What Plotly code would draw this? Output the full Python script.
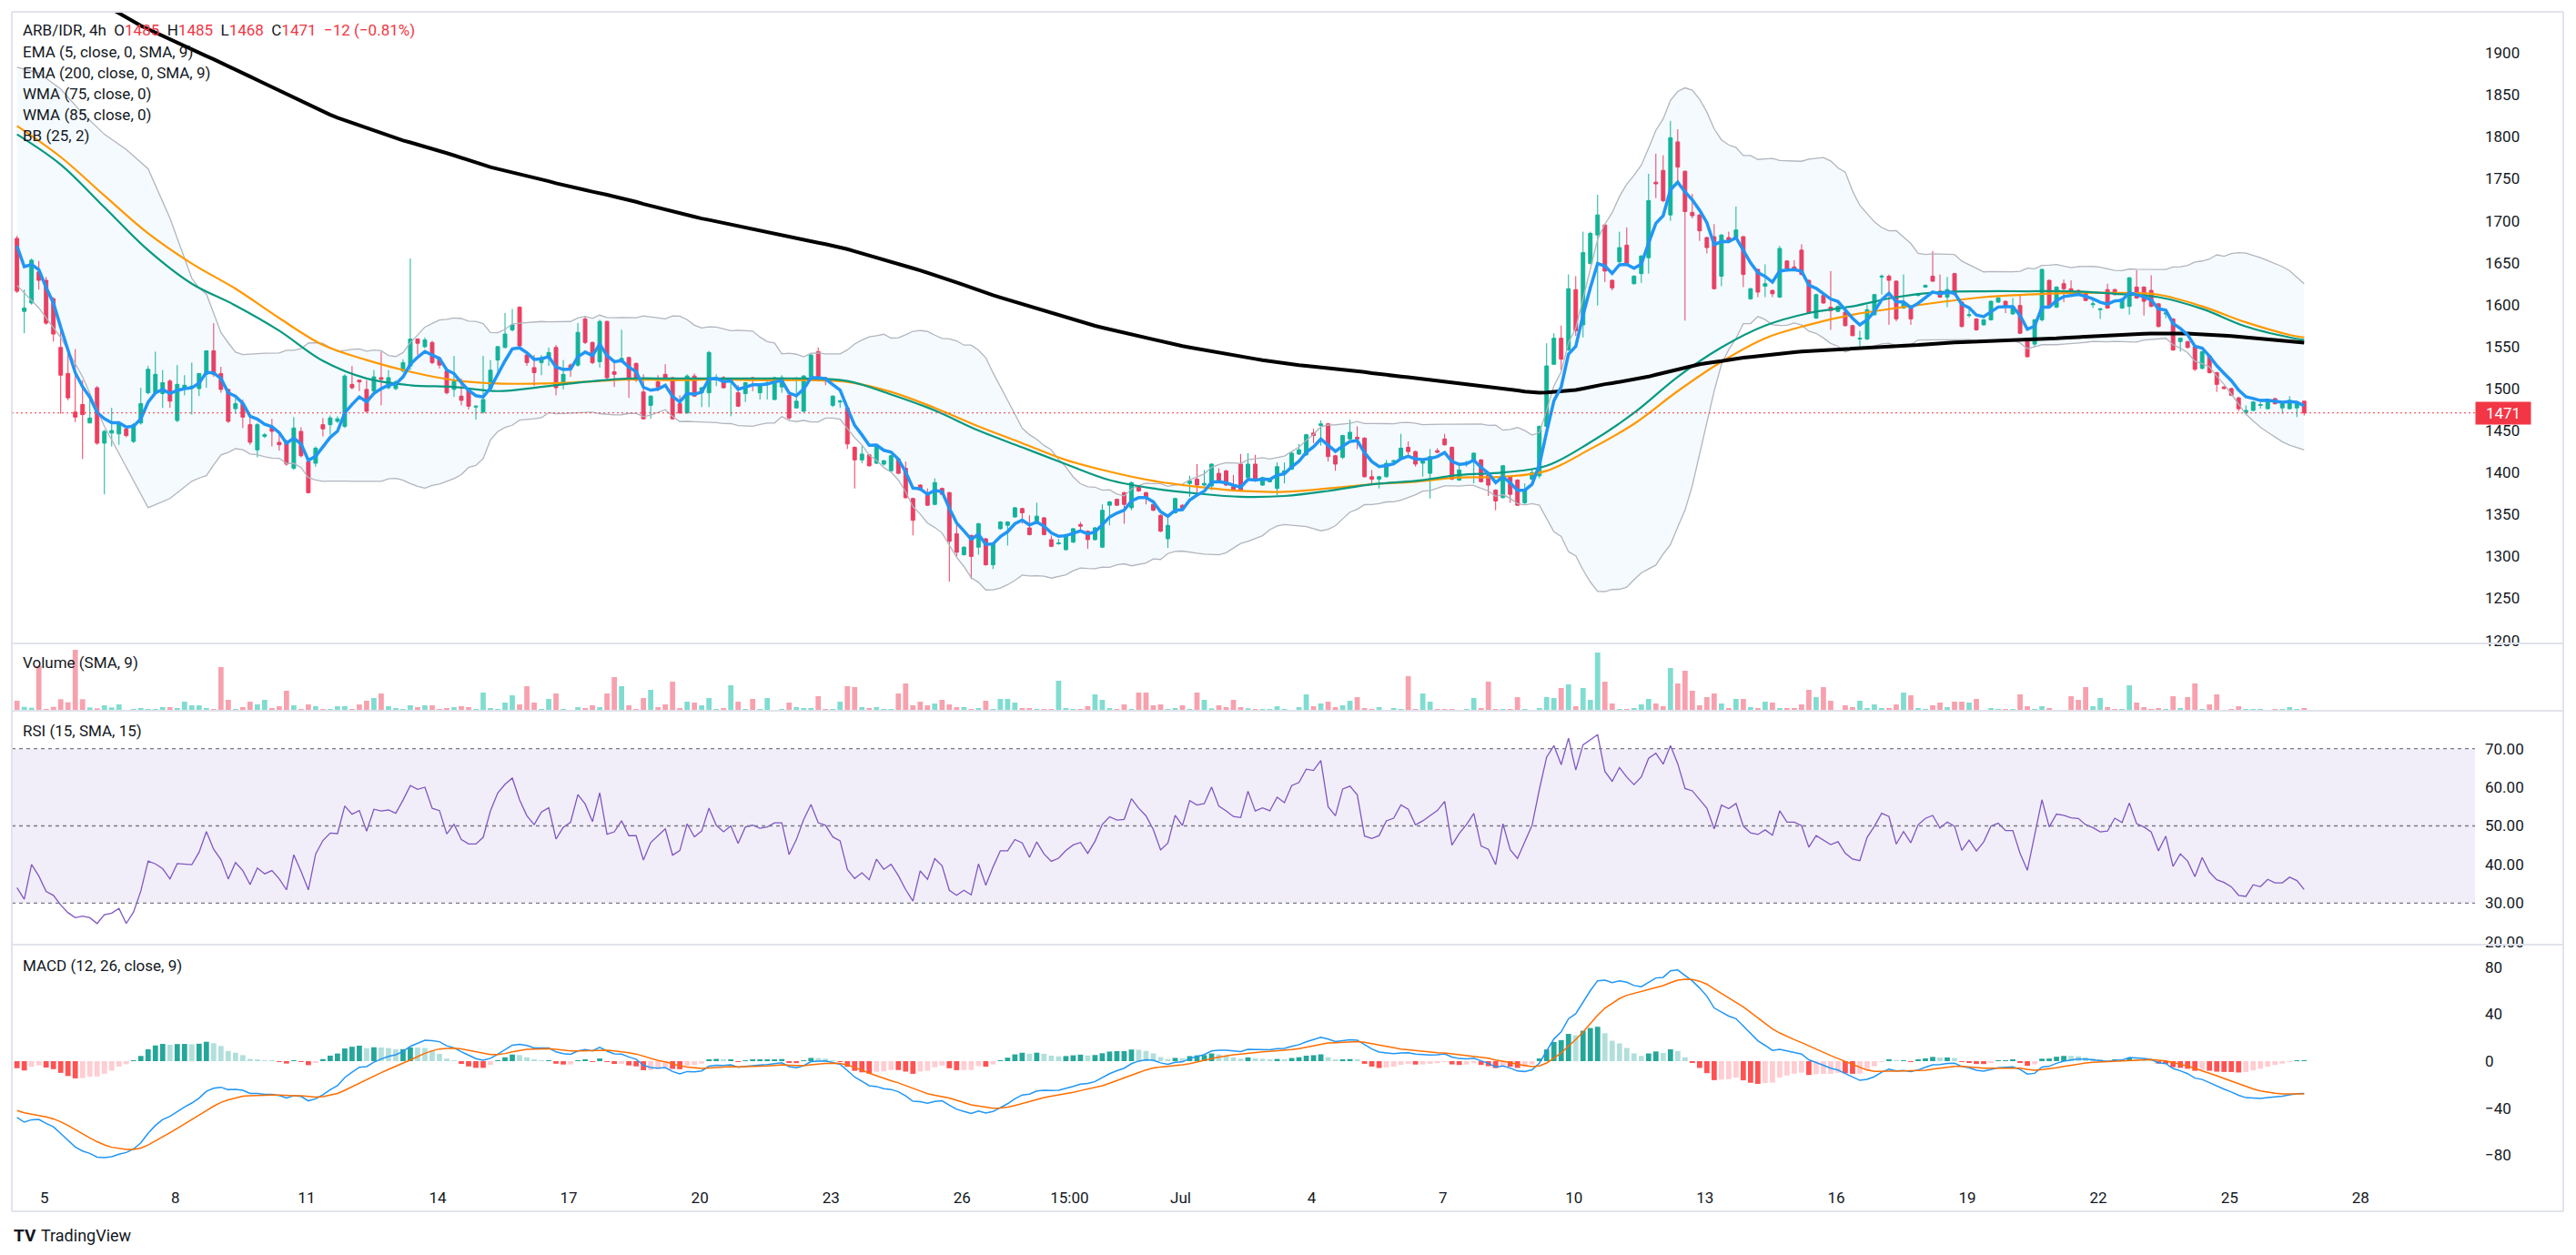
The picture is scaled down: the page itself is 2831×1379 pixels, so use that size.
import numpy as np
import pandas as pd
import plotly.graph_objects as go
from plotly.subplots import make_subplots

# ------------------------------------------------------------------ data (ARB/IDR, 4h)
opens = [1679,1592,1602,1639,1629,1607,1549,1518,1472,1481,
1459,1501,1435,1447,1446,1452,1437,1459,1495,1495,
1494,1509,1462,1500,1501,1500,1517,1545,1518,1499,
1476,1482,1457,1427,1443,1453,1436,1437,1405,1449,
1413,1411,1457,1457,1461,1455,1505,1510,1499,1497,
1513,1501,1500,1521,1527,1559,1550,1555,1536,1521,
1499,1491,1499,1478,1472,1500,1534,1549,1570,1597,
1540,1525,1531,1536,1549,1507,1528,1528,1583,1555,
1532,1580,1520,1533,1537,1530,1496,1480,1508,1517,
1513,1482,1471,1515,1495,1495,1511,1513,1509,1495,
1494,1513,1495,1505,1487,1502,1492,1477,1473,1514,
1544,1513,1480,1484,1477,1430,1415,1421,1411,1410,
1402,1416,1405,1369,1385,1373,1362,1381,1376,1327,
1302,1325,1311,1321,1290,1333,1337,1347,1357,1334,
1341,1346,1320,1315,1308,1317,1338,1330,1320,1311,
1361,1368,1376,1358,1383,1376,1362,1349,1321,1352,
1361,1387,1392,1385,1384,1399,1402,1383,1410,1394,
1410,1385,1389,1381,1400,1404,1422,1421,1447,1456,
1458,1420,1418,1440,1442,1441,1395,1392,1395,1413,
1417,1430,1425,1411,1399,1426,1440,1430,1391,1411,
1415,1415,1397,1379,1370,1395,1391,1364,1392,1396,
1455,1529,1560,1546,1618,1576,1649,1683,1695,1629,
1651,1671,1625,1637,1656,1746,1760,1707,1794,1759,
1710,1707,1680,1681,1634,1680,1680,1681,1607,1642,
1622,1617,1609,1652,1645,1665,1629,1584,1611,1597,
1592,1591,1575,1559,1559,1588,1633,1634,1628,1596,
1596,1611,1621,1634,1616,1609,1637,1603,1587,1583,
1576,1582,1603,1604,1589,1599,1559,1553,1582,1629,
1597,1625,1619,1617,1615,1600,1594,1618,1618,1596,
1598,1621,1621,1617,1601,1589,1583,1556,1556,1550,
1524,1539,1519,1502,1500,1489,1471,1474,1480,1476,
1488,1477,1476,1477,1485]

highs = [1682,1618,1655,1652,1633,1609,1578,1547,1547,1510,
1494,1503,1451,1477,1461,1455,1459,1501,1527,1544,
1522,1511,1528,1516,1531,1510,1545,1578,1526,1500,
1488,1487,1469,1459,1447,1464,1445,1439,1466,1454,
1415,1431,1465,1468,1467,1517,1527,1510,1510,1522,
1544,1522,1510,1535,1655,1560,1561,1557,1538,1523,
1539,1512,1501,1480,1539,1534,1551,1590,1595,1598,
1542,1540,1540,1549,1552,1534,1530,1578,1586,1556,
1582,1581,1534,1570,1538,1531,1517,1492,1516,1529,
1514,1492,1517,1518,1502,1545,1517,1515,1512,1504,
1508,1514,1506,1513,1514,1516,1493,1514,1516,1541,
1549,1514,1492,1487,1478,1431,1432,1422,1434,1415,
1421,1417,1413,1370,1386,1381,1393,1382,1377,1341,
1312,1326,1340,1322,1317,1342,1342,1359,1358,1349,
1364,1347,1325,1321,1327,1334,1341,1331,1335,1362,
1366,1369,1377,1389,1385,1377,1363,1350,1346,1370,
1362,1396,1410,1403,1411,1405,1403,1397,1422,1423,
1421,1395,1392,1412,1412,1425,1434,1446,1452,1462,
1459,1421,1445,1463,1455,1442,1403,1396,1415,1415,
1446,1437,1426,1415,1428,1429,1446,1431,1411,1414,
1424,1416,1398,1380,1409,1396,1392,1387,1404,1456,
1554,1566,1575,1636,1634,1687,1687,1731,1696,1630,
1687,1692,1635,1659,1756,1780,1778,1819,1809,1760,
1732,1708,1681,1696,1684,1687,1717,1682,1620,1643,
1648,1618,1670,1653,1653,1672,1630,1613,1612,1640,
1599,1592,1576,1569,1600,1613,1636,1636,1629,1636,
1597,1614,1624,1664,1636,1633,1638,1604,1595,1584,
1583,1605,1609,1605,1608,1612,1560,1583,1643,1630,
1622,1630,1629,1618,1616,1606,1596,1625,1619,1608,
1633,1641,1622,1635,1602,1591,1584,1561,1557,1551,
1545,1540,1520,1503,1501,1490,1480,1485,1488,1488,
1489,1483,1491,1483,1485]

lows = [1614,1566,1600,1618,1576,1556,1470,1486,1460,1416,
1459,1433,1374,1431,1433,1442,1435,1457,1493,1492,
1477,1477,1460,1492,1469,1491,1501,1514,1495,1459,
1470,1453,1433,1418,1441,1431,1426,1408,1403,1418,
1375,1407,1443,1445,1459,1453,1499,1497,1471,1495,
1480,1499,1498,1519,1522,1540,1548,1529,1524,1493,
1490,1480,1475,1463,1470,1498,1520,1548,1568,1548,
1527,1503,1516,1527,1492,1499,1514,1526,1553,1529,
1525,1511,1502,1531,1489,1508,1463,1464,1497,1511,
1463,1470,1470,1490,1478,1478,1503,1500,1467,1478,
1484,1497,1487,1487,1486,1495,1463,1476,1472,1512,
1512,1504,1478,1477,1428,1381,1411,1407,1410,1408,
1400,1398,1369,1325,1378,1360,1361,1373,1270,1300,
1301,1273,1302,1289,1285,1332,1313,1346,1339,1325,
1340,1325,1311,1314,1307,1316,1331,1309,1319,1310,
1337,1360,1339,1355,1377,1362,1354,1329,1310,1351,
1356,1371,1372,1384,1379,1389,1384,1378,1377,1393,
1389,1384,1388,1373,1387,1403,1421,1420,1435,1432,
1413,1402,1416,1439,1428,1394,1385,1381,1394,1412,
1416,1421,1407,1395,1369,1423,1432,1391,1390,1407,
1387,1388,1372,1355,1369,1364,1360,1362,1391,1393,
1453,1528,1522,1545,1563,1561,1648,1599,1627,1617,
1650,1646,1624,1626,1637,1727,1722,1700,1746,1581,
1703,1676,1661,1618,1622,1674,1679,1621,1606,1609,
1609,1609,1608,1642,1642,1635,1589,1583,1601,1570,
1591,1574,1563,1550,1558,1587,1612,1576,1580,1595,
1576,1610,1620,1627,1608,1597,1611,1573,1585,1569,
1575,1581,1602,1590,1588,1565,1537,1550,1580,1596,
1596,1603,1614,1613,1604,1596,1583,1595,1611,1595,
1588,1607,1587,1597,1573,1584,1545,1544,1548,1521,
1523,1518,1496,1499,1491,1473,1470,1473,1476,1475,
1481,1470,1475,1466,1468]

closes = [1616,1596,1653,1629,1578,1565,1516,1489,1466,1469,
1465,1435,1449,1450,1459,1444,1457,1482,1523,1517,
1507,1485,1505,1504,1503,1518,1545,1517,1499,1461,
1482,1466,1436,1457,1445,1449,1433,1410,1453,1420,
1376,1429,1452,1465,1464,1515,1501,1508,1473,1514,
1511,1513,1508,1531,1559,1554,1558,1531,1528,1495,
1509,1486,1479,1479,1487,1522,1550,1565,1576,1551,
1531,1519,1537,1543,1501,1517,1524,1567,1555,1531,
1580,1513,1517,1536,1510,1510,1464,1491,1502,1513,
1464,1471,1515,1491,1501,1543,1513,1501,1511,1479,
1507,1510,1505,1507,1513,1513,1465,1485,1515,1540,
1513,1509,1491,1485,1434,1415,1422,1408,1433,1414,
1420,1399,1370,1343,1379,1361,1388,1374,1318,1305,
1311,1300,1339,1290,1316,1341,1341,1358,1352,1326,
1348,1326,1312,1316,1326,1333,1336,1320,1334,1355,
1365,1361,1362,1388,1378,1370,1355,1330,1337,1369,
1357,1390,1385,1387,1410,1390,1385,1379,1378,1410,
1390,1394,1391,1407,1402,1423,1427,1445,1444,1458,
1419,1410,1444,1448,1440,1395,1392,1395,1411,1414,
1429,1425,1410,1414,1419,1424,1433,1392,1403,1412,
1423,1389,1385,1366,1408,1374,1361,1379,1400,1455,
1527,1560,1535,1619,1569,1662,1685,1707,1640,1620,
1668,1649,1634,1658,1724,1744,1724,1799,1764,1711,
1706,1688,1668,1619,1683,1675,1689,1636,1619,1615,
1625,1613,1667,1643,1643,1636,1590,1612,1602,1593,
1598,1575,1563,1560,1594,1612,1634,1629,1583,1603,
1583,1612,1623,1628,1609,1618,1612,1574,1588,1570,
1582,1604,1608,1598,1598,1566,1538,1582,1642,1597,
1621,1619,1615,1614,1605,1601,1595,1596,1612,1607,
1632,1608,1604,1598,1574,1590,1546,1560,1549,1523,
1544,1519,1505,1500,1492,1476,1474,1484,1481,1487,
1482,1482,1486,1482,1471]

volumes = [33,13,10,148,6,13,38,28,201,38,
11,8,18,11,21,3,6,9,6,6,
12,12,9,30,18,18,9,6,144,36,
6,12,30,21,36,9,15,66,18,6,
21,15,6,6,15,15,6,21,33,42,
57,15,9,6,18,12,18,18,6,9,
12,15,12,6,60,9,6,27,51,21,
81,27,6,39,57,6,3,12,9,18,
12,57,111,81,18,6,42,69,12,21,
96,9,30,27,18,42,6,9,84,30,
6,39,6,42,3,6,27,12,9,9,
48,6,6,30,81,78,12,9,12,6,
6,57,90,18,30,18,24,36,21,12,
12,6,9,33,6,39,39,27,9,9,
6,6,6,99,9,6,6,15,54,36,
9,6,21,6,60,60,18,21,6,9,
18,6,60,36,8,18,12,36,12,8,
6,6,6,15,6,3,12,54,15,24,
30,12,18,33,45,9,6,12,3,9,
6,114,6,57,30,6,6,6,3,6,
42,9,96,6,6,6,45,6,3,9,
45,42,75,87,15,75,36,192,96,24,
6,6,9,21,39,24,15,141,90,132,
66,18,45,57,24,9,39,39,12,9,
30,27,9,9,9,21,69,45,78,33,
3,18,12,33,9,21,9,9,21,60,
51,9,6,18,27,12,30,30,27,39,
3,9,6,6,6,54,15,6,15,9,
3,3,48,36,78,15,42,12,6,6,
84,27,12,6,9,6,48,9,45,90,
6,21,54,3,6,15,6,6,6,3,
6,6,12,6,9]

# indicator values read off the chart where history is not visible
rsi_head = [34, 31, 40, 37, 33, 32, 29.5, 27.5, 26.2, 26.6, 26.2, 24.7, 27, 27.4, 28.6]
bb_head_idx = [0, 3, 6, 9, 12, 15, 18, 21]
bb_head_upper = [1883, 1876, 1857, 1828, 1803, 1785, 1762, 1703]
bb_head_lower = [1623, 1596, 1561, 1514, 1455, 1406, 1358, 1369]
wma_idx = list(range(0, 313, 6)) + [314]
wma75 = [1803,1767,1716,1665,1625,1599,1569,1533,1512,1504,
1502,1497,1502,1508,1512,1512,1512,1512,1512,1509,
1493,1474,1450,1430,1410,1391,1381,1375,1371,1372,
1378,1386,1390,1397,1400,1408,1436,1471,1514,1549,
1575,1590,1598,1609,1615,1616,1616,1616,1613,1609,
1595,1574,1561,1558]
wma85 = [1813,1776,1730,1685,1649,1619,1584,1552,1534,1520,
1510,1506,1506,1508,1511,1510,1511,1510,1510,1508,
1496,1477,1455,1435,1415,1401,1390,1383,1378,1377,
1381,1386,1389,1394,1395,1402,1428,1458,1497,1532,
1560,1576,1588,1596,1603,1609,1612,1614,1614,1612,
1598,1579,1564,1561]
ema5_start = 1670
ema200_start = 2012
ema12_start = 1690
ema26_start = 1738
signal_start = -42

x_ticks = ["2024-06-05 00:00", "2024-06-08 00:00", "2024-06-11 00:00", "2024-06-14 00:00",
           "2024-06-17 00:00", "2024-06-20 00:00", "2024-06-23 00:00", "2024-06-26 00:00",
           "2024-06-28 11:00", "2024-07-01 00:00", "2024-07-04 00:00", "2024-07-07 00:00",
           "2024-07-10 00:00", "2024-07-13 00:00", "2024-07-16 00:00", "2024-07-19 00:00",
           "2024-07-22 00:00", "2024-07-25 00:00", "2024-07-28 00:00"]
x_tick_text = ["5", "8", "11", "14", "17", "20", "23", "26", "15:00", "Jul", "4", "7",
               "10", "13", "16", "19", "22", "25", "28"]
price_ticks = list(range(1200, 1901, 50))

# ------------------------------------------------------------------ indicators
t = pd.date_range("2024-06-04 09:00", periods=len(closes), freq="4h")
c = np.array(closes, dtype=float)
n = len(c)


def ema_from(vals, length, start):
    a = 2.0 / (length + 1)
    out = np.empty(len(vals))
    e = start
    out[0] = e
    for i in range(1, len(vals)):
        e = e + a * (vals[i] - e)
        out[i] = e
    return out


ema5 = ema_from(c, 5, ema5_start)
ema200 = ema_from(c, 200, ema200_start)
macd = ema_from(c, 12, ema12_start) - ema_from(c, 26, ema26_start)
signal = ema_from(macd, 9, signal_start)
hist = macd - signal

s = pd.Series(c)
basis = s.rolling(25).mean()
dev = s.rolling(25).std(ddof=0)
bb_up = (basis + 2 * dev).to_numpy()
bb_lo = (basis - 2 * dev).to_numpy()
bb_x = list(t[bb_head_idx]) + list(t[24:])
bb_u = list(bb_head_upper) + list(bb_up[24:])
bb_l = list(bb_head_lower) + list(bb_lo[24:])

d = np.diff(c)
g = np.clip(d, 0, None)
lo = np.clip(-d, 0, None)
rsi = np.full(n, np.nan)
rsi[:15] = rsi_head
ag = g[:15].mean()
al = lo[:15].mean()
rsi[15] = 100 - 100 / (1 + ag / al)
for i in range(16, n):
    ag = (ag * 14 + g[i - 1]) / 15
    al = (al * 14 + lo[i - 1]) / 15
    rsi[i] = 100.0 if al == 0 else 100 - 100 / (1 + ag / al)

UP, DN = "#14b497", "#f03d5e"
vol_colors = ["#80dcd0" if cl >= op else "#f7a1ae" for op, cl in zip(opens, closes)]
hist_colors = []
for i, h in enumerate(hist):
    prev = hist[i - 1] if i > 0 else h
    if h >= 0:
        hist_colors.append("#26a69a" if h > prev else "#b2dfdb")
    else:
        hist_colors.append("#ffcdd2" if h > prev else "#ff5252")

# ------------------------------------------------------------------ figure
W, H = 2831, 1379
PL, PR, PT, PB = 13, 2720, 13, 1298


def fx(X):
    return (X - PL) / (PR - PL)


def fy(Y):
    return (PB - Y) / (PB - PT)


fig = make_subplots(rows=4, cols=1, shared_xaxes=True, vertical_spacing=0)

fig.add_trace(go.Scatter(x=bb_x, y=bb_u, mode="lines", line=dict(color="#b2b5be", width=1.3),
                         hoverinfo="skip"), row=1, col=1)
fig.add_trace(go.Scatter(x=bb_x, y=bb_l, mode="lines", line=dict(color="#b2b5be", width=1.3),
                         fill="tonexty", fillcolor="rgba(33,150,243,0.05)", hoverinfo="skip"), row=1, col=1)
fig.add_trace(go.Scatter(x=t[wma_idx], y=wma85, mode="lines", line=dict(color="#ff9800", width=2.2, shape="spline"),
                         hoverinfo="skip"), row=1, col=1)
fig.add_trace(go.Scatter(x=t[wma_idx], y=wma75, mode="lines", line=dict(color="#089981", width=2.2, shape="spline"),
                         hoverinfo="skip"), row=1, col=1)
fig.add_trace(go.Scatter(x=t, y=ema200, mode="lines", line=dict(color="#000000", width=4),
                         hoverinfo="skip"), row=1, col=1)
fig.add_trace(go.Candlestick(x=t, open=opens, high=highs, low=lows, close=closes,
                             increasing=dict(line=dict(color=UP, width=1), fillcolor=UP),
                             decreasing=dict(line=dict(color=DN, width=1), fillcolor=DN),
                             whiskerwidth=0, hoverinfo="skip"), row=1, col=1)
fig.add_trace(go.Scatter(x=t, y=ema5, mode="lines", line=dict(color="#2196f3", width=3.5),
                         hoverinfo="skip"), row=1, col=1)

fig.add_trace(go.Bar(x=t, y=volumes, marker=dict(color=vol_colors, line=dict(width=0)), hoverinfo="skip"),
              row=2, col=1)

fig.add_trace(go.Scatter(x=t, y=rsi, mode="lines", line=dict(color="#7e57c2", width=1.3), hoverinfo="skip"),
              row=3, col=1)

fig.add_trace(go.Bar(x=t, y=hist, marker=dict(color=hist_colors, line=dict(width=0)), hoverinfo="skip"),
              row=4, col=1)
fig.add_trace(go.Scatter(x=t, y=macd, mode="lines", line=dict(color="#2196f3", width=1.5), hoverinfo="skip"),
              row=4, col=1)
fig.add_trace(go.Scatter(x=t, y=signal, mode="lines", line=dict(color="#ff6d00", width=1.5), hoverinfo="skip"),
              row=4, col=1)

day0 = pd.Timestamp("2024-06-05")
px_per_day = 48.03
x_left = day0 - pd.Timedelta(days=(48.7 - PL) / px_per_day)
x_right = day0 + pd.Timedelta(days=(PR - 48.7) / px_per_day)

axis_font = dict(family="Roboto, Arial, sans-serif", size=17, color="#131722")
fig.update_xaxes(range=[x_left, x_right], showgrid=False, zeroline=False, showline=False,
                 rangeslider=dict(visible=False), domain=[0, 1])
fig.update_xaxes(row=4, col=1, tickmode="array", tickvals=list(pd.to_datetime(x_ticks)), ticktext=x_tick_text,
                 showticklabels=True, tickfont=axis_font, ticks="", ticklabelstandoff=6)
fig.update_yaxes(side="right", showgrid=False, zeroline=False, showline=False, ticks="",
                 tickfont=axis_font, ticklabelstandoff=10)

fig.update_layout(
    yaxis=dict(domain=[fy(707), 1.0], range=[1196.3, 1949.0], tickvals=price_ticks),
    yaxis2=dict(domain=[fy(781), fy(707)], range=[0, 222], showticklabels=False),
    yaxis3=dict(domain=[fy(1038), fy(781)], range=[19.22, 79.83], tickvals=[20, 30, 40, 50, 60, 70],
                tickformat=".2f"),
    yaxis4=dict(domain=[0, fy(1038)], range=[-102.3, 99.2], tickvals=[80, 40, 0, -40, -80],
                ticktext=["80", "40", "0", "\u221240", "\u221280"]),
)

shapes = []
shapes.append(dict(type="rect", xref="x3 domain", x0=0, x1=1, yref="y3", y0=30, y1=70,
                   fillcolor="rgba(126,87,194,0.1)", line=dict(width=0), layer="below"))
for lvl in (70, 50, 30):
    shapes.append(dict(type="line", xref="x3 domain", x0=0, x1=1, yref="y3", y0=lvl, y1=lvl,
                       line=dict(color="#787b86", width=1.3, dash="4px,4px")))
shapes.append(dict(type="line", xref="x domain", x0=0, x1=1, yref="y", y0=closes[-1], y1=closes[-1],
                   line=dict(color="#f23645", width=1, dash="2px,3px")))
border = "#e0e3eb"
for Y in (13, 707, 781, 1038, 1331):
    shapes.append(dict(type="line", xref="paper", yref="paper", x0=fx(13), x1=fx(2817), y0=fy(Y), y1=fy(Y),
                       line=dict(color=border, width=2)))
for X in (13, 2817):
    shapes.append(dict(type="line", xref="paper", yref="paper", x0=fx(X), x1=fx(X), y0=fy(13), y1=fy(1331),
                       line=dict(color=border, width=2)))

RED = "#f23645"
txt = "#131722"
lbl_font = dict(family="Roboto, Arial, sans-serif", size=17, color=txt)
annotations = []


def label(X, Y, text, font=lbl_font):
    annotations.append(dict(x=fx(X), y=fy(Y), xref="paper", yref="paper", xanchor="left", yanchor="middle",
                            text=text, showarrow=False, font=font))


sp = "&nbsp;&nbsp;"
header = ("ARB/IDR, 4h" + sp + "O<span style='color:%s'>1485</span>" % RED + sp +
          "H<span style='color:%s'>1485</span>" % RED + sp +
          "L<span style='color:%s'>1468</span>" % RED + sp +
          "C<span style='color:%s'>1471</span>" % RED + sp +
          "<span style='color:%s'>\u221212 (\u22120.81%%)</span>" % RED)
label(23, 33, header)
label(23, 57, "EMA (5, close, 0, SMA, 9)")
label(23, 80, "EMA (200, close, 0, SMA, 9)")
label(23, 103, "WMA (75, close, 0)")
label(23, 126, "WMA (85, close, 0)")
label(23, 149, "BB (25, 2)")
label(23, 728, "Volume (SMA, 9)")
label(23, 803, "RSI (15, SMA, 15)")
label(23, 1061, "MACD (12, 26, close, 9)")
label(13, 1357, "<b>TV</b>", font=dict(family="Roboto, Arial, sans-serif", size=19, color=txt))
label(43, 1357, "TradingView", font=dict(family="Roboto, Arial, sans-serif", size=18, color=txt))

annotations.append(dict(x=1.0, xref="paper", y=closes[-1], yref="y", xanchor="left", yanchor="middle",
                        text=str(closes[-1]), showarrow=False, bgcolor=RED, width=58, height=22,
                        align="center", font=dict(family="Roboto, Arial, sans-serif", size=17, color="white")))

fig.update_layout(
    width=W, height=H,
    margin=dict(l=PL, r=W - PR, t=PT, b=H - PB),
    paper_bgcolor="white", plot_bgcolor="white",
    showlegend=False, hovermode=False,
    bargap=0.28,
    font=dict(family="Roboto, Arial, sans-serif", color=txt),
    shapes=shapes, annotations=annotations,
)

fig.write_html("out.html")
